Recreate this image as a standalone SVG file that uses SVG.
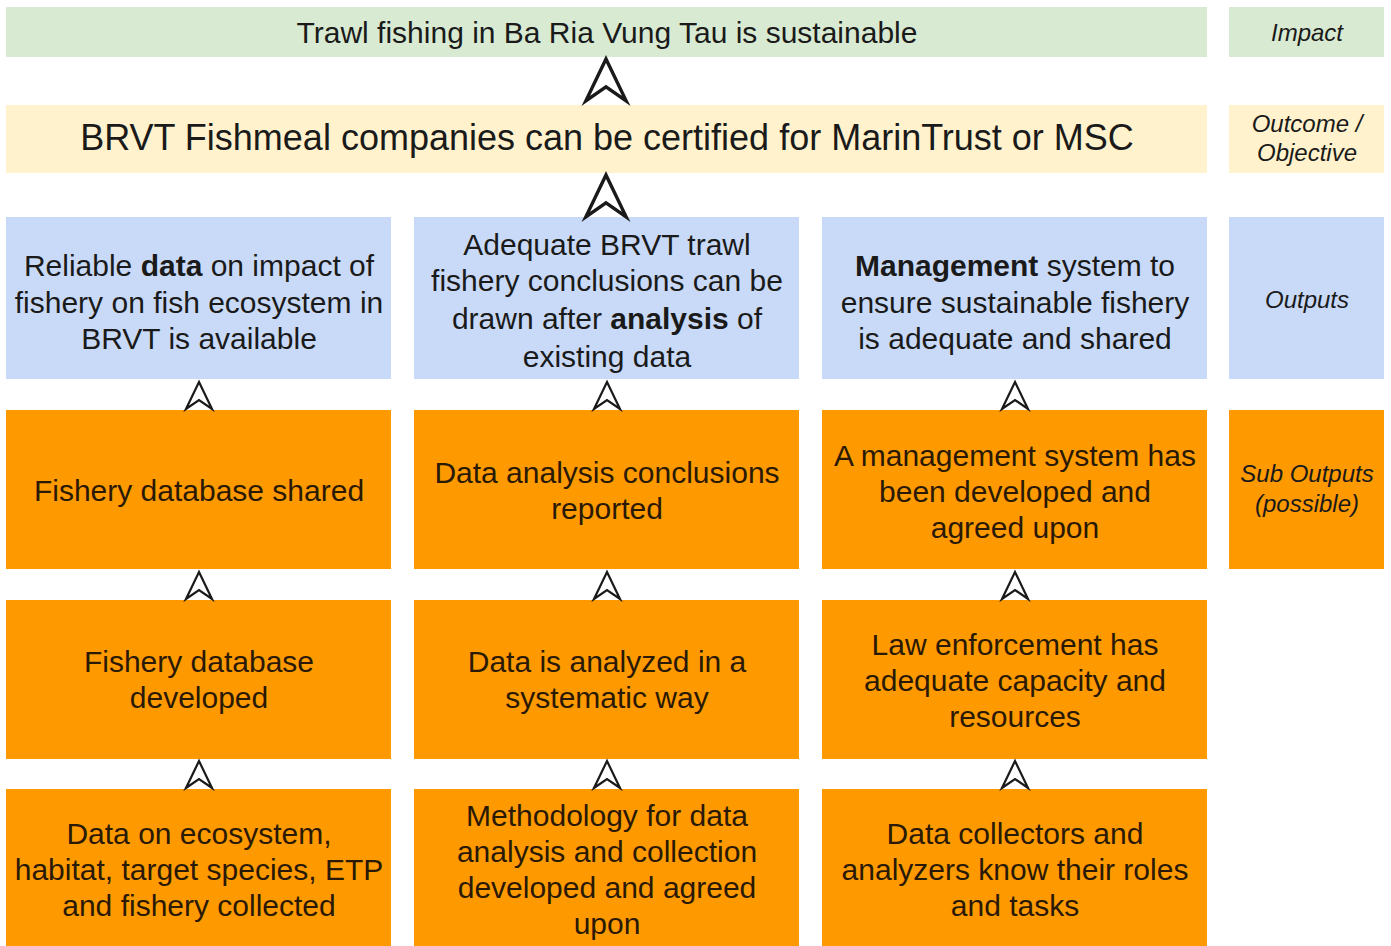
<svg xmlns="http://www.w3.org/2000/svg" xmlns:xlink="http://www.w3.org/1999/xlink" width="1391" height="946" viewBox="0 0 1391 946">
  <style>
    .impact { fill: #d9ead3; }
    .outcome { fill: #fff2cc; }
    .output { fill: #c9daf8; }
    .sub { fill: #ff9900; }
    text { font-family: "Liberation Sans", Arial, sans-serif; text-anchor: middle; fill: #1a1a1a; }
    .t { font-size: 30px; }
    .sub-t { font-size: 30px; fill: #2a1a05; }
    .lbl { font-size: 24px; font-style: italic; }
    .b { font-weight: bold; }
    .head { fill: #ffffff; stroke: #1a1a1a; stroke-linejoin: miter; }
  </style>
  <defs>
    <path id="arrowhead" d="M0,0 L13,27 L0,18 L-13,27 Z"/>
  </defs>
  <rect width="1391" height="946" fill="#ffffff"/>

  <!-- Impact -->
  <g id="impact">
    <rect class="impact" x="6" y="7" width="1201" height="50"/>
    <text x="607" y="43" style="font-size:30px">Trawl fishing in Ba Ria Vung Tau is sustainable</text>
  </g>
  <g id="label-impact">
    <rect class="impact" x="1229" y="7" width="155" height="50"/>
    <text class="lbl" x="1307" y="41">Impact</text>
  </g>

  <!-- Outcome -->
  <g id="outcome">
    <rect class="outcome" x="6" y="105" width="1201" height="68"/>
    <text x="607" y="150" style="font-size:36px">BRVT Fishmeal companies can be certified for MarinTrust or MSC</text>
  </g>
  <g id="label-outcome">
    <rect class="outcome" x="1229" y="105" width="155" height="68"/>
    <text class="lbl" x="1307" y="132">Outcome /</text>
    <text class="lbl" x="1307" y="161">Objective</text>
  </g>

  <!-- Outputs -->
  <g id="output-data">
    <rect class="output" x="6" y="217" width="385" height="162"/>
    <text class="t" x="199" y="276">Reliable <tspan class="b">data</tspan> on impact of</text>
    <text class="t" x="199" y="313">fishery on fish ecosystem in</text>
    <text class="t" x="199" y="349">BRVT is available</text>
  </g>
  <g id="output-analysis">
    <rect class="output" x="414" y="217" width="385" height="162"/>
    <text class="t" x="607" y="255">Adequate BRVT trawl</text>
    <text class="t" x="607" y="291">fishery conclusions can be</text>
    <text class="t" x="607" y="329">drawn after <tspan class="b">analysis</tspan> of</text>
    <text class="t" x="607" y="367">existing data</text>
  </g>
  <g id="output-management">
    <rect class="output" x="822" y="217" width="385" height="162"/>
    <text class="t" x="1015" y="276"><tspan class="b">Management</tspan> system to</text>
    <text class="t" x="1015" y="313">ensure sustainable fishery</text>
    <text class="t" x="1015" y="349">is adequate and shared</text>
  </g>
  <g id="label-outputs">
    <rect class="output" x="1229" y="217" width="155" height="162"/>
    <text class="lbl" x="1307" y="308">Outputs</text>
  </g>

  <!-- Sub outputs, level 1 -->
  <g id="sub-database-shared">
    <rect class="sub" x="6" y="410" width="385" height="159"/>
    <text class="sub-t" x="199" y="501">Fishery database shared</text>
  </g>
  <g id="sub-conclusions-reported">
    <rect class="sub" x="414" y="410" width="385" height="159"/>
    <text class="sub-t" x="607" y="483">Data analysis conclusions</text>
    <text class="sub-t" x="607" y="519">reported</text>
  </g>
  <g id="sub-management-agreed">
    <rect class="sub" x="822" y="410" width="385" height="159"/>
    <text class="sub-t" x="1015" y="466">A management system has</text>
    <text class="sub-t" x="1015" y="502">been developed and</text>
    <text class="sub-t" x="1015" y="538">agreed upon</text>
  </g>
  <g id="label-sub-outputs">
    <rect class="sub" x="1229" y="410" width="155" height="159"/>
    <text class="lbl" x="1307" y="482" fill="#2a1a05">Sub Outputs</text>
    <text class="lbl" x="1307" y="512" fill="#2a1a05">(possible)</text>
  </g>

  <!-- Sub outputs, level 2 -->
  <g id="sub-database-developed">
    <rect class="sub" x="6" y="600" width="385" height="159"/>
    <text class="sub-t" x="199" y="672">Fishery database</text>
    <text class="sub-t" x="199" y="708">developed</text>
  </g>
  <g id="sub-analyzed">
    <rect class="sub" x="414" y="600" width="385" height="159"/>
    <text class="sub-t" x="607" y="672">Data is analyzed in a</text>
    <text class="sub-t" x="607" y="708">systematic way</text>
  </g>
  <g id="sub-enforcement">
    <rect class="sub" x="822" y="600" width="385" height="159"/>
    <text class="sub-t" x="1015" y="655">Law enforcement has</text>
    <text class="sub-t" x="1015" y="691">adequate capacity and</text>
    <text class="sub-t" x="1015" y="727">resources</text>
  </g>

  <!-- Sub outputs, level 3 -->
  <g id="sub-data-collected">
    <rect class="sub" x="6" y="789" width="385" height="157"/>
    <text class="sub-t" x="199" y="844">Data on ecosystem,</text>
    <text class="sub-t" x="199" y="880">habitat, target species, ETP</text>
    <text class="sub-t" x="199" y="916">and fishery collected</text>
  </g>
  <g id="sub-methodology">
    <rect class="sub" x="414" y="789" width="385" height="157"/>
    <text class="sub-t" x="607" y="826">Methodology for data</text>
    <text class="sub-t" x="607" y="862">analysis and collection</text>
    <text class="sub-t" x="607" y="898">developed and agreed</text>
    <text class="sub-t" x="607" y="934">upon</text>
  </g>
  <g id="sub-roles">
    <rect class="sub" x="822" y="789" width="385" height="157"/>
    <text class="sub-t" x="1015" y="844">Data collectors and</text>
    <text class="sub-t" x="1015" y="880">analyzers know their roles</text>
    <text class="sub-t" x="1015" y="916">and tasks</text>
  </g>

  <!-- Connectors: open arrowheads pointing to the level above -->
  <g id="connectors">
    <use xlink:href="#arrowhead" class="head" stroke-width="2.2" transform="translate(606,59) scale(1.55)"/>
    <use xlink:href="#arrowhead" class="head" stroke-width="2.2" transform="translate(606,175) scale(1.55)"/>

    <use xlink:href="#arrowhead" class="head" stroke-width="2.2" transform="translate(199,382)"/>
    <use xlink:href="#arrowhead" class="head" stroke-width="2.2" transform="translate(607,382)"/>
    <use xlink:href="#arrowhead" class="head" stroke-width="2.2" transform="translate(1015,382)"/>

    <use xlink:href="#arrowhead" class="head" stroke-width="2.2" transform="translate(199,572)"/>
    <use xlink:href="#arrowhead" class="head" stroke-width="2.2" transform="translate(607,572)"/>
    <use xlink:href="#arrowhead" class="head" stroke-width="2.2" transform="translate(1015,572)"/>

    <use xlink:href="#arrowhead" class="head" stroke-width="2.2" transform="translate(199,761)"/>
    <use xlink:href="#arrowhead" class="head" stroke-width="2.2" transform="translate(607,761)"/>
    <use xlink:href="#arrowhead" class="head" stroke-width="2.2" transform="translate(1015,761)"/>
  </g>
</svg>
